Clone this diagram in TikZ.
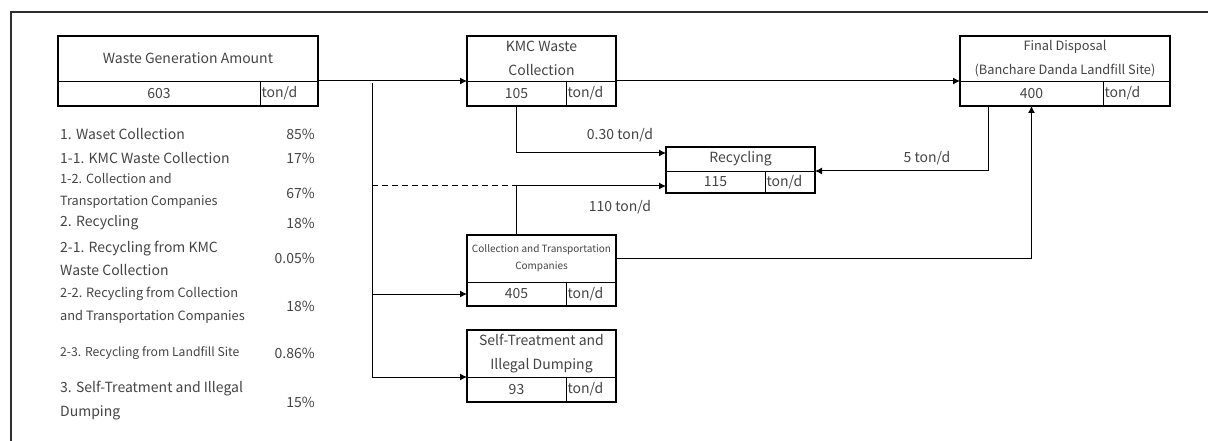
\documentclass[tikz,border=0pt]{standalone}
\usepackage{fontspec}
\setmainfont{Noto Sans CJK JP}
\usetikzlibrary{arrows.meta}
\definecolor{txt}{RGB}{68,68,68}
\definecolor{framegray}{RGB}{45,45,45}

% head row of a data box: name, x1, x2, y1, y2, node options, text
\newcommand\boxhead[7]{%
  \node[cell, #6, minimum width={(#3-#2)*1pt}, minimum height={(#5-#4)*1pt}]
    (#1) at ({(#2+#3)/2},{(#4+#5)/2}) {#7};}
% value row of a data box: name, x1, divider x, x2, y1, y2, value
\newcommand\boxfoot[7]{%
  \node[cell, valfont, minimum width={(#3-#2)*1pt}, minimum height={(#6-#5)*1pt}]
    (#1-v) at ({(#2+#3)/2},{(#5+#6)/2}) {#7};
  \node[cell, valfont, minimum width={(#4-#3)*1pt}, minimum height={(#6-#5)*1pt},
        text width={(#4-#3-3)*1pt}, inner xsep=1.5pt, align=left]
    (#1-u) at ({(#3+#4)/2},{(#5+#6)/2}) {ton/d};
  \draw[boxline] (#1.north west) rectangle (#1-u.south east);}

\begin{document}
\begin{tikzpicture}[x=1pt,y=-1pt,
  cell/.style={draw=black, line width=0.9pt, inner sep=0pt, outer sep=0pt,
               text=txt, align=center},
  valfont/.style={font=\fontsize{14}{16}\selectfont},
  boxline/.style={draw=black, line width=2.2pt},
  link/.style={line width=1pt},
  arr/.style={line width=1pt, -{Latex[length=7pt,width=7pt]}},
  lbl/.style={text=txt, font=\fontsize{14}{16}\selectfont, inner sep=0pt},
  item/.style={text=txt, inner sep=0pt, anchor=west, align=left},
  big/.style={font=\fontsize{14}{23}\selectfont},
  small/.style={font=\fontsize{12.5}{23}\selectfont},
  pct/.style={text=txt, inner sep=0pt, anchor=east, font=\fontsize{14}{16}\selectfont},
]
\useasboundingbox (0,0) rectangle (1208,441);

% frame
\draw[framegray, line width=1.3pt] (11,441) -- (11,12) -- (1208,12);

% data boxes
\boxhead{wg}{58}{318}{36}{81}{font=\fontsize{14}{16}\selectfont}{Waste Generation Amount}
\boxfoot{wg}{58}{260}{318}{81}{106}{603}

\boxhead{kmc}{467}{616}{36}{81}{font=\fontsize{14}{24}\selectfont}{KMC Waste\\Collection}
\boxfoot{kmc}{467}{566}{616}{81}{106}{105}

\boxhead{fd}{960}{1170}{36}{81}{font=\fontsize{12.8}{24}\selectfont}{Final Disposal\\(Banchare Danda Landfill Site)}
\boxfoot{fd}{960}{1103}{1170}{81}{106}{400}

\boxhead{rec}{666}{815}{147}{171}{font=\fontsize{14}{16}\selectfont}{Recycling}
\boxfoot{rec}{666}{765}{815}{171}{193}{115}

\boxhead{ct}{467}{616}{235}{282}{font=\fontsize{10}{17}\selectfont}{Collection and Transportation\\Companies}
\boxfoot{ct}{467}{566}{616}{282}{306}{405}

\boxhead{st}{467}{616}{330}{377}{font=\fontsize{14}{24}\selectfont}{Self-Treatment and\\Illegal Dumping}
\boxfoot{st}{467}{566}{616}{377}{402}{93}

% trunk from the generation box
\coordinate (trtop) at (372,81);
\coordinate (trbot) at (372,377);
\coordinate (dj) at (516,186);

\draw[arr] (wg.south east) -- (kmc.south west);
\draw[arr] (kmc.south east) -- (fd.south west);
\draw[link] ([yshift=-2pt]trtop) -- (trbot);
\draw[arr] (trtop |- ct-v.west) -- (ct-v.west);
\draw[arr] (trbot) -- (st.south west);
\draw[link, dash pattern=on 6pt off 4pt] (trtop |- dj) -- (dj);
\draw[arr] (dj) -- (dj -| rec-v.west);
\draw[link] (dj |- ct.north) -- (dj);
\draw[arr] (kmc-v.south) |- ([yshift=6pt]rec.west);
\draw[arr] (ct.east) -| (fd-v.south);
\draw[arr] ([xshift=28pt]fd-v.south west) |- (rec.south east);

% flow labels
\node[lbl] (l030) at (620,135) {0.30 ton/d};
\node[lbl] (l110) at (620,207) {110 ton/d};
\node[lbl] (l5) at (927,158) {5 ton/d};

% share list
\node[item, big] (i1) at (60,134) {1. Waset Collection};
\node[pct] (p1) at (315,134) {85\%};
\node[item, big] (i11) at (60,158) {1-1. KMC Waste Collection};
\node[pct] (p11) at (315,158) {17\%};
\node[item, small, font=\fontsize{12.7}{22}\selectfont] (i12) at (60,191) {1-2. Collection and\\Transportation Companies};
\node[pct] (p12) at (315,193) {67\%};
\node[item, big] (i2) at (60,223) {2. Recycling};
\node[pct] (p2) at (315,223) {18\%};
\node[item, big] (i21) at (60,258.5) {2-1. Recycling from KMC\\Waste Collection};
\node[pct] (p21) at (315,258) {0.05\%};
\node[item, small, font=\fontsize{12.8}{23}\selectfont] (i22) at (60,305.5) {2-2. Recycling from Collection\\and Transportation Companies};
\node[pct] (p22) at (315,306) {18\%};
\node[item, font=\fontsize{12.2}{14}\selectfont] (i23) at (60,353) {2-3. Recycling from Landfill Site};
\node[pct] (p23) at (315,353) {0.86\%};
\node[item, big, font=\fontsize{14}{24}\selectfont] (i3) at (60,401) {3. Self-Treatment and Illegal\\Dumping};
\node[pct] (p3) at (315,402) {15\%};
\end{tikzpicture}
\end{document}
